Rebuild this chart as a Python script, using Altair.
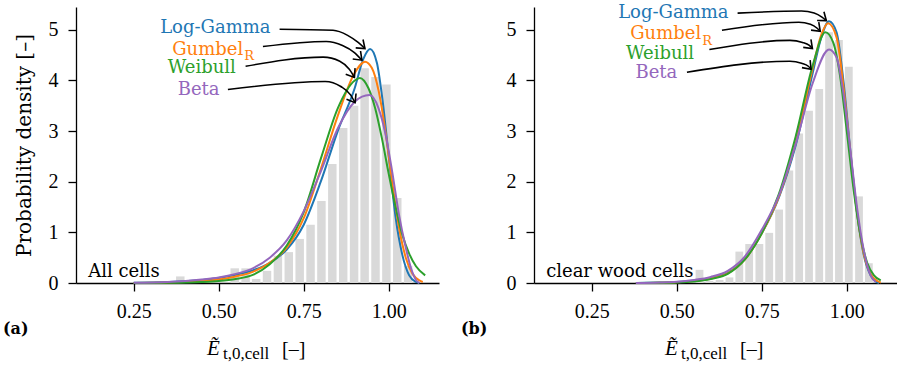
import math
import altair as alt
import pandas as pd

FONT = "DejaVu Serif"
NUMFONT = "Liberation Serif"
DISTS = ["Log-Gamma", "Gumbel", "Weibull", "Beta"]
COLORS = ["#1f77b4", "#ff7f0e", "#2ca02c", "#9467bd"]

# ---------------- panel (a): all cells ----------------
A_BIN_CENTERS = [0.387, 0.419, 0.451, 0.483, 0.515, 0.547, 0.579, 0.610, 0.642, 0.674, 0.706,
                 0.738, 0.770, 0.802, 0.834, 0.866, 0.898, 0.929, 0.961, 0.993, 1.025, 1.057]
A_BIN_HEIGHTS = [0.13, 0.0, 0.0, 0.0, 0.0, 0.29, 0.29, 0.08, 0.24, 0.54, 0.61,
                 0.87, 1.15, 1.62, 2.35, 3.06, 3.50, 4.24, 4.07, 3.92, 1.68, 0.34]
A_BIN_WIDTH = 0.0319

A_LG_X = [0.25, 0.35, 0.45, 0.50, 0.55, 0.60, 0.65, 0.70, 0.75, 0.80, 0.85, 0.90, 0.925, 0.945, 0.965, 0.98, 1.00, 1.02, 1.04, 1.06, 1.08, 1.09]
A_LG_Y = [0.005, 0.02, 0.06, 0.10, 0.16, 0.25, 0.40, 0.66, 1.15, 2.00, 3.00, 3.85, 4.42, 4.62, 4.35, 3.70, 2.50, 1.30, 0.55, 0.15, 0.02, 0.0]
A_GU_X = [0.25, 0.35, 0.45, 0.50, 0.55, 0.60, 0.65, 0.70, 0.75, 0.80, 0.85, 0.90, 0.93, 0.95, 0.97, 0.99, 1.01, 1.03, 1.05, 1.07, 1.09, 1.10]
A_GU_Y = [0.002, 0.01, 0.04, 0.07, 0.13, 0.22, 0.40, 0.70, 1.28, 2.25, 3.30, 4.15, 4.37, 4.25, 3.80, 3.00, 2.00, 1.10, 0.50, 0.18, 0.05, 0.02]
A_WE_X = [0.25, 0.35, 0.45, 0.50, 0.55, 0.60, 0.65, 0.70, 0.75, 0.80, 0.85, 0.90, 0.915, 0.94, 0.96, 0.98, 1.00, 1.02, 1.04, 1.06, 1.08, 1.107]
A_WE_Y = [0.0, 0.004, 0.02, 0.04, 0.08, 0.16, 0.37, 0.74, 1.40, 2.45, 3.45, 4.00, 4.05, 3.85, 3.45, 2.85, 2.15, 1.50, 0.95, 0.58, 0.33, 0.15]
A_BE_X = [0.25, 0.35, 0.45, 0.50, 0.55, 0.60, 0.65, 0.70, 0.75, 0.80, 0.85, 0.90, 0.943, 0.97, 0.99, 1.01, 1.03, 1.05, 1.065, 1.08, 1.09]
A_BE_Y = [0.003, 0.02, 0.07, 0.11, 0.18, 0.29, 0.50, 0.84, 1.42, 2.20, 3.05, 3.58, 3.71, 3.45, 2.95, 2.20, 1.35, 0.70, 0.30, 0.06, 0.0]

# ---------------- panel (b): clear wood cells ----------------
B_BIN_CENTERS = [0.567, 0.596, 0.626, 0.655, 0.684, 0.713, 0.743, 0.772, 0.801, 0.831,
                 0.860, 0.889, 0.919, 0.948, 0.977, 1.006, 1.036, 1.065]
B_BIN_HEIGHTS = [0.26, 0.04, 0.06, 0.11, 0.62, 0.77, 0.77, 0.99, 1.45, 2.22,
                 2.95, 3.40, 3.83, 4.95, 4.80, 4.27, 1.71, 0.39]
B_BIN_WIDTH = 0.0293

B_LG_X = [0.38, 0.45, 0.50, 0.55, 0.60, 0.65, 0.70, 0.75, 0.80, 0.85, 0.90, 0.925, 0.948, 0.97, 0.99, 1.01, 1.03, 1.05, 1.07, 1.085, 1.095]
B_LG_Y = [0.0, 0.01, 0.02, 0.05, 0.10, 0.20, 0.47, 0.98, 1.68, 2.72, 4.15, 4.85, 5.17, 4.95, 4.00, 2.65, 1.40, 0.55, 0.15, 0.03, 0.0]
B_GU_X = [0.38, 0.45, 0.50, 0.55, 0.60, 0.65, 0.70, 0.75, 0.80, 0.85, 0.90, 0.925, 0.945, 0.97, 0.99, 1.01, 1.03, 1.05, 1.07, 1.09, 1.10]
B_GU_Y = [0.0, 0.005, 0.015, 0.04, 0.09, 0.19, 0.46, 0.98, 1.70, 2.78, 4.25, 4.90, 5.13, 4.85, 3.90, 2.60, 1.40, 0.58, 0.18, 0.04, 0.01]
B_WE_X = [0.38, 0.45, 0.50, 0.55, 0.60, 0.65, 0.70, 0.75, 0.80, 0.85, 0.90, 0.937, 0.96, 0.98, 1.00, 1.02, 1.04, 1.06, 1.08, 1.10]
B_WE_Y = [0.0, 0.004, 0.01, 0.03, 0.08, 0.18, 0.46, 0.98, 1.75, 2.90, 4.30, 4.95, 4.75, 4.10, 3.00, 1.85, 0.95, 0.40, 0.15, 0.05]
B_BE_X = [0.38, 0.45, 0.50, 0.55, 0.60, 0.65, 0.70, 0.75, 0.80, 0.85, 0.90, 0.948, 0.97, 0.99, 1.01, 1.03, 1.05, 1.07, 1.085]
B_BE_Y = [0.0, 0.01, 0.025, 0.06, 0.12, 0.24, 0.52, 1.05, 1.72, 2.75, 3.95, 4.61, 4.45, 3.75, 2.65, 1.50, 0.65, 0.15, 0.02]

# ---------------- annotation labels (data coordinates) ----------------
LABEL_TEXT = ["Log-Gamma", "Gumbel", "Weibull", "Beta"]
A_LABEL_X = [0.490, 0.572, 0.450, 0.441]
A_LABEL_Y = [5.03, 4.61, 4.24, 3.82]
B_LABEL_X = [0.490, 0.572, 0.451, 0.440]
B_LABEL_Y = [5.33, 4.91, 4.53, 4.14]
A_SUB_Y = 4.475
B_SUB_Y = 4.77

# arrows: path points (data coordinates), one list per label
A_ARROW_X = [[0.679, 0.836, 0.879, 0.910, 0.930],
             [0.630, 0.816, 0.864, 0.899, 0.921],
             [0.579, 0.807, 0.856, 0.884, 0.899],
             [0.527, 0.813, 0.859, 0.887, 0.901]]
A_ARROW_Y = [[5.01, 4.99, 4.89, 4.75, 4.63],
             [4.67, 4.77, 4.69, 4.55, 4.40],
             [4.28, 4.46, 4.38, 4.22, 4.06],
             [3.82, 3.98, 3.88, 3.72, 3.56]]
B_ARROW_X = [[0.679, 0.867, 0.904, 0.927, 0.940],
             [0.633, 0.859, 0.893, 0.913, 0.922],
             [0.596, 0.833, 0.870, 0.890, 0.899],
             [0.530, 0.833, 0.867, 0.887, 0.895]]
B_ARROW_Y = [[5.33, 5.37, 5.33, 5.25, 5.18],
             [4.99, 5.15, 5.11, 5.03, 4.97],
             [4.61, 4.79, 4.75, 4.69, 4.63],
             [4.16, 4.38, 4.34, 4.28, 4.22]]

XDOM = [0.095, 1.133]
YDOM = [0.0, 5.45]
W, H = 363, 276
PX_X = W / (XDOM[1] - XDOM[0])
PX_Y = H / (YDOM[1] - YDOM[0])
ARROWHEAD = "M-1,-0.75L0,0L-1,0.75"


def X(field):
    return alt.X(field, type="quantitative",
                 scale=alt.Scale(domain=XDOM, nice=False, zero=False),
                 axis=alt.Axis(values=[0.25, 0.5, 0.75, 1.0], format=".2f", title=None))


def Y(field, ytitle):
    if ytitle:
        ax = alt.Axis(values=[0, 1, 2, 3, 4, 5], title=ytitle)
    else:
        ax = alt.Axis(values=[0, 1, 2, 3, 4, 5], title=None)
    return alt.Y(field, type="quantitative", scale=alt.Scale(domain=YDOM, nice=False), axis=ax)


def panel(centers, heights, bw, curves, lab_x, lab_y, sub_y, arr_x, arr_y, inner, letter, ytitle):
    bars_df = pd.DataFrame({
        "x0": [c - 0.39 * bw for c in centers],
        "x1": [c + 0.39 * bw for c in centers],
        "h": heights,
        "b": [0.0] * len(centers),
    })
    bars = alt.Chart(bars_df).mark_bar(color="#d9d9d9", orient="vertical").encode(
        x=X("x0"), x2="x1", y=Y("h", ytitle), y2="b")

    rows = []
    for name, xs, ys in curves:
        for i, (a, b) in enumerate(zip(xs, ys)):
            rows.append({"dist": name, "x": a, "y": b, "o": i})
    color = alt.Color("dist:N", scale=alt.Scale(domain=DISTS, range=COLORS), legend=None)
    lines = alt.Chart(pd.DataFrame(rows)).mark_line(strokeWidth=2, interpolate="monotone").encode(
        x=X("x"), y=Y("y", ytitle), color=color, order="o:Q")

    arows = []
    heads = []
    for k in range(len(arr_x)):
        for i, (a, b) in enumerate(zip(arr_x[k], arr_y[k])):
            arows.append({"id": k, "x": a, "y": b, "o": i})
        dx = (arr_x[k][-1] - arr_x[k][-2]) * PX_X
        dy = -(arr_y[k][-1] - arr_y[k][-2]) * PX_Y
        ang = math.degrees(math.atan2(dy, dx)) % 360
        heads.append({"x": arr_x[k][-1], "y": arr_y[k][-1], "ang": ang})
    arrows = alt.Chart(pd.DataFrame(arows)).mark_line(
        color="black", strokeWidth=1.6, interpolate="monotone").encode(
        x=X("x"), y=Y("y", ytitle), detail="id:N", order="o:Q")
    heads_ch = alt.Chart(pd.DataFrame(heads)).mark_point(
        shape=ARROWHEAD, filled=False, stroke="black", strokeWidth=1.6, size=220, opacity=1).encode(
        x=X("x"), y=Y("y", ytitle), angle=alt.Angle("ang:Q", scale=None))

    lab_df = pd.DataFrame({"dist": DISTS, "t": LABEL_TEXT, "x": lab_x, "y": lab_y,
                           "al": ["center", "right", "center", "center"]})
    labs_c = alt.Chart(lab_df[lab_df["al"] == "center"]).mark_text(
        font=FONT, fontSize=18, align="center", baseline="middle").encode(
        x=X("x"), y=Y("y", ytitle), text="t:N", color=color)
    labs_r = alt.Chart(lab_df[lab_df["al"] == "right"]).mark_text(
        font=FONT, fontSize=18, align="right", baseline="middle").encode(
        x=X("x"), y=Y("y", ytitle), text="t:N", color=color)
    sub = alt.Chart(pd.DataFrame({"x": [lab_x[1]], "y": [sub_y], "t": ["R"], "dist": ["Gumbel"]})).mark_text(
        font=FONT, fontSize=13, align="left", baseline="middle", dx=1).encode(
        x=X("x"), y=Y("y", ytitle), text="t:N", color=color)

    inner_df = pd.DataFrame({"x": [0.116], "y": [0.12], "t": [inner]})
    inner_ch = alt.Chart(inner_df).mark_text(
        font=FONT, fontSize=18, align="left", baseline="alphabetic", color="black").encode(
        x=X("x"), y=Y("y", ytitle), text="t:N")

    def fixed_text(t, px, py, size, italic=False, bold=False, font=NUMFONT):
        kw = dict(font=font, fontSize=size, align="left", baseline="alphabetic", color="black")
        if italic:
            kw["fontStyle"] = "italic"
        if bold:
            kw["fontWeight"] = "bold"
        return alt.Chart(pd.DataFrame({"t": [t]})).mark_text(**kw).encode(
            x=alt.value(px), y=alt.value(py), text="t:N")

    xt1 = fixed_text("Ẽ", 131, 348, 21, italic=True)
    xt2 = fixed_text("t,0,cell", 147, 352, 17)
    xt3 = fixed_text("[–]", 206, 349, 20)
    let = fixed_text(letter, -73, 327, 16, bold=True, font=FONT)

    return alt.layer(bars, lines, arrows, heads_ch, labs_c, labs_r, sub, inner_ch,
                     xt1, xt2, xt3, let).properties(width=W, height=H)


curves_a = [("Log-Gamma", A_LG_X, A_LG_Y), ("Gumbel", A_GU_X, A_GU_Y),
            ("Weibull", A_WE_X, A_WE_Y), ("Beta", A_BE_X, A_BE_Y)]
curves_b = [("Log-Gamma", B_LG_X, B_LG_Y), ("Gumbel", B_GU_X, B_GU_Y),
            ("Weibull", B_WE_X, B_WE_Y), ("Beta", B_BE_X, B_BE_Y)]

left = panel(A_BIN_CENTERS, A_BIN_HEIGHTS, A_BIN_WIDTH, curves_a, A_LABEL_X, A_LABEL_Y, A_SUB_Y,
             A_ARROW_X, A_ARROW_Y, "All cells", "(a)", "Probability density [–]")
right = panel(B_BIN_CENTERS, B_BIN_HEIGHTS, B_BIN_WIDTH, curves_b, B_LABEL_X, B_LABEL_Y, B_SUB_Y,
              B_ARROW_X, B_ARROW_Y, "clear wood cells", "(b)", None)

chart = alt.hconcat(left, right, spacing=22).properties(
    padding={"left": 3, "top": 4, "right": 0, "bottom": 0}
).configure_view(stroke=None).configure_axis(
    domainColor="black", domainWidth=1.3, tickColor="black", tickWidth=1.3, tickSize=8,
    labelFont=NUMFONT, labelFontSize=20, labelColor="black", labelPadding=10,
    titleFont=FONT, titleFontSize=20, titleFontWeight="normal", titleColor="black",
    titlePadding=14, grid=False
)

chart.save("out.html", embed_options={"renderer": "svg", "actions": False})
